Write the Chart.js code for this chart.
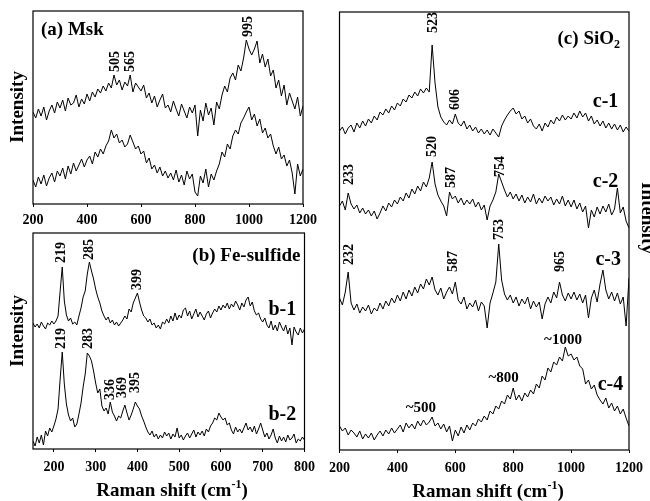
<!DOCTYPE html>
<html>
<head>
<meta charset="utf-8">
<script src="https://cdn.jsdelivr.net/npm/chart.js@4.4.0/dist/chart.umd.min.js"></script>
<style>
  body { margin: 0; background: #fff; width: 650px; height: 501px; position: relative; overflow: hidden; }
  canvas { position: absolute; }
</style>
</head>
<body>
<canvas id="chartA" style="left:0px;top:0px" width="322" height="230"></canvas>
<canvas id="chartB" style="left:0px;top:230px" width="322" height="271"></canvas>
<canvas id="chartC" style="left:322px;top:0px" width="328" height="501"></canvas>
<script>
// wavenumber grids (cm-1)
const steps = (a, b, s) => Array.from({ length: Math.round((b - a) / s) + 1 }, (_, i) => a + i * s);
const shiftA = steps(200, 1200, 10);
const shiftB = steps(150, 800, 5);
const shiftC = steps(200, 1200, 10);

// tick labels
const ticksA = [200, 400, 600, 800, 1000, 1200];
const ticksB = [200, 300, 400, 500, 600, 700, 800];
const ticksC = [200, 400, 600, 800, 1000, 1200];

// (a) Msk, two spectra (offset intensities)
const mskTop = [
  92, 86, 95, 88, 97, 84, 93, 99, 91, 102,
  96, 104, 93, 106, 99, 101, 109, 97, 105, 100,
  110, 103, 112, 107, 115, 111, 118, 113, 121, 116,
  129, 119, 124, 114, 122, 118, 129, 112, 121, 117,
  113, 119, 106, 111, 101, 108, 97, 104, 110, 96,
  99, 92, 103, 95, 88, 100, 93, 86, 97, 91,
  99, 68, 94, 83, 101, 89, 96, 79, 102, 95,
  109, 118, 112, 126, 131, 124, 139, 133, 146, 164,
  155, 149, 155, 163, 141, 150, 137, 145, 128, 134,
  116, 124, 108, 119, 99, 111, 103, 95, 107, 88,
  98
];
const mskBottom = [
  24, 17, 27, 20, 29, 18, 26, 31, 22, 33,
  28, 36, 25, 38, 30, 41, 33, 39, 45, 37,
  44, 48, 40, 52, 47, 55, 50, 58, 63, 74,
  66, 70, 61, 64, 57, 60, 69, 62, 55, 58,
  50, 53, 41, 46, 35, 39, 31, 37, 28, 33,
  26, 31, 24, 34, 22, 29, 19, 33, 25, 30,
  12, 8, 28, 21, 35, 17, 30, 24, 33, 40,
  52, 47, 60, 55, 68, 74, 70, 81, 86, 92,
  97, 84, 90, 78, 85, 71, 76, 66, 70, 58,
  50, 57, 45, 49, 38, 44, 31, 10, 40, 28,
  35
];

// (b) Fe-sulfide
const feS1 = [
  126, 122, 125, 121, 127, 123, 120, 126, 124, 128,
  125, 128, 133, 158, 182, 148, 134, 128, 131, 125,
  127, 124, 133, 141, 152, 158, 175, 187, 178, 170,
  160, 152, 146, 138, 133, 129, 132, 126, 129, 124,
  127, 123, 126, 129, 133, 130, 140, 137, 146, 151,
  156, 147, 139, 133, 131, 127, 130, 124, 126, 121,
  124, 120, 127, 125, 130, 126, 133, 128, 136, 129,
  134, 131, 139, 141, 133, 138, 130, 135, 140, 132,
  137, 133, 129, 135, 138, 131, 136, 140, 137, 143,
  139, 144, 141, 146, 140, 145, 142, 148, 144, 139,
  146, 142, 149, 152, 143, 147, 138, 134, 136, 130,
  127, 131, 124, 121, 128, 119, 124, 118, 127, 122,
  118, 124, 115, 121, 104, 122, 117, 114, 121, 116, 120
];
const feS2 = [
  8, 3, 12, 6, 14, 4, 18, 13, 21, 17,
  23, 30, 40, 70, 97, 65, 45, 34, 28, 31,
  22, 25, 35, 46, 62, 75, 96, 93, 88, 78,
  66, 56, 60, 43, 38, 41, 35, 47, 37, 33,
  28, 33, 31, 38, 44, 36, 29, 34, 40, 47,
  43, 40, 33, 28, 22, 17, 14, 18, 12, 15,
  10, 14, 11, 17, 13, 16, 10, 15, 12, 21,
  11, 14, 9, 13, 16, 11, 15, 19, 12, 17,
  14, 18, 13, 20, 17, 23, 26, 31, 29, 36,
  32, 29, 31, 24, 26, 19, 15, 22, 17, 20,
  16, 21, 26, 19, 22, 17, 23, 15, 20, 26,
  19, 12, 16, 10, 14, 20, 11, 6, 13, 8,
  12, 7, 14, 9, 11, 15, 6, 10, 8, 12, 9
];

// (c) SiO2
const sio1 = [
  319, 323, 316, 322, 325, 318, 327, 322, 329, 324,
  331, 327, 334, 330, 338, 335, 341, 337, 344, 340,
  347, 344, 351, 348, 355, 352, 358, 354, 361, 357,
  362, 358, 405, 367, 343, 333, 328, 325, 330, 326,
  336, 327, 324, 329, 321, 325, 319, 323, 317, 321,
  316, 320, 315, 321, 317, 313, 324, 330, 335, 339,
  342, 336, 339, 331, 334, 327, 331, 324, 321, 326,
  319, 327, 323, 330, 326, 333, 329, 335, 330, 334,
  331, 337, 332, 339, 333, 337, 329, 334, 326, 330,
  324, 329, 322, 327, 321, 326, 320, 325, 318, 323,
  319
];
const sio2 = [
  244, 249, 240, 257, 246, 241, 245, 237, 242, 236,
  240, 234, 239, 231, 237, 244, 239, 247, 243, 250,
  246, 253, 249, 257, 252, 261, 256, 264, 259, 268,
  263, 272, 288, 266, 255, 249, 244, 234, 258, 251,
  254, 247, 252, 245, 250, 246, 251, 243, 248, 240,
  245, 230, 244, 250, 258, 276, 268, 260, 253, 258,
  251, 256, 249, 255, 247, 253, 248, 256, 246, 252,
  247, 254, 249, 253, 245, 251, 246, 254, 244, 250,
  243, 250, 241, 247, 238, 244, 222, 240, 233, 243,
  236, 244, 238, 246, 235, 241, 262, 237, 243, 229,
  222
];
const sio3 = [
  152, 145, 158, 178, 147, 140, 146, 137, 143, 139,
  145, 136, 142, 139, 147, 141, 149, 144, 152, 147,
  155, 149, 158, 151, 160, 154, 163, 157, 166, 161,
  171, 165, 173, 160, 155, 162, 151, 158, 163, 156,
  168, 150, 146, 153, 141, 147, 143, 150, 139, 148,
  144, 122, 147, 157, 168, 206, 170, 156, 150, 155,
  147, 153, 144, 151, 146, 153, 141, 149, 143, 148,
  131, 146, 153, 147, 158, 152, 168, 155, 149, 157,
  151, 158, 150, 156, 147, 155, 132, 152, 160, 148,
  166, 180, 160, 151, 158, 149, 157, 146, 153, 124,
  172
];
const sio4 = [
  24, 19, 22, 15, 20, 17, 13, 19, 11, 16,
  12, 17, 10, 15, 19, 14, 20, 16, 22, 17,
  21, 25, 18, 27, 22, 26, 21, 29, 24, 30,
  25, 28, 33, 24, 27, 21, 26, 18, 24, 9,
  20, 14, 23, 17, 25, 20, 27, 24, 31, 28,
  34, 30, 39, 36, 44, 41, 49, 46, 55, 51,
  62, 50, 55, 49, 57, 53, 60, 56, 66, 62,
  74, 70, 82, 78, 88, 85, 93, 89, 103, 94,
  96, 90, 93, 84, 81, 66, 70, 61, 65, 55,
  50, 46, 52, 42, 47, 39, 44, 36, 41, 32,
  24
];

// peak annotations (wavenumber, label foot in intensity units)
const peaksA = [
  { text: '505', x: 505, y: 132 }, { text: '565', x: 562, y: 132 }, { text: '995', x: 997, y: 167 }
];
const peaksB = [
  { text: '219', x: 219, y: 186 }, { text: '285', x: 285, y: 189 }, { text: '399', x: 399, y: 159 },
  { text: '219', x: 219, y: 100 }, { text: '283', x: 283, y: 100 },
  { text: '336', x: 336, y: 49 }, { text: '369', x: 365, y: 51 }, { text: '395', x: 396, y: 56 }
];
const peaksC = [
  { text: '523', x: 525, y: 417 }, { text: '606', x: 601, y: 340 },
  { text: '233', x: 235, y: 265 }, { text: '520', x: 522, y: 293 }, { text: '587', x: 585, y: 262 }, { text: '754', x: 755, y: 273 },
  { text: '232', x: 233, y: 185 }, { text: '587', x: 592, y: 178 }, { text: '753', x: 752, y: 210 }, { text: '965', x: 962, y: 178 }
];
const tagsB = [{ text: 'b-1', x: 747, y: 139 }, { text: 'b-2', x: 747, y: 34 }];
const tagsC = [
  { text: 'c-1', x: 1119, y: 348, size: 20 }, { text: 'c-2', x: 1119, y: 268, size: 20 },
  { text: 'c-3', x: 1128, y: 190, size: 20 }, { text: 'c-4', x: 1136, y: 65, size: 20 },
  { text: '~1000', x: 972, y: 110, size: 15 }, { text: '~800', x: 767, y: 72, size: 15 },
  { text: '~500', x: 481, y: 42, size: 15 }
];

const SERIF = '"Liberation Serif", "Times New Roman", serif';
const bold = size => `bold ${size}px ${SERIF}`;

// text made of pieces: [text, size, baseline shift]
function richText(ctx, pieces, x, y, align) {
  let w = 0;
  pieces.forEach(p => { ctx.font = bold(p[1]); w += ctx.measureText(p[0]).width; });
  let cx = align === 'right' ? x - w : align === 'center' ? x - w / 2 : x;
  ctx.textAlign = 'left';
  ctx.textBaseline = 'alphabetic';
  pieces.forEach(p => {
    ctx.font = bold(p[1]);
    ctx.fillText(p[0], cx, y + p[2]);
    cx += ctx.measureText(p[0]).width;
  });
}

function rotated(ctx, text, x, y, angle, size, align) {
  ctx.save();
  ctx.translate(x, y);
  ctx.rotate(angle);
  ctx.font = bold(size);
  ctx.textAlign = align;
  ctx.textBaseline = 'middle';
  ctx.fillText(text, 0, 0);
  ctx.restore();
}

function decor(opts) {
  return {
    id: 'decor',
    afterDatasetsDraw(chart) {
      const { ctx, chartArea: a, scales: { x, y } } = chart;
      ctx.save();
      ctx.strokeStyle = '#000';
      ctx.lineWidth = 1.2;
      ctx.strokeRect(a.left, a.top, a.right - a.left, a.bottom - a.top);
      ctx.fillStyle = '#000';
      (opts.peaks || []).forEach(p => {
        rotated(ctx, p.text, x.getPixelForValue(p.x), y.getPixelForValue(p.y), -Math.PI / 2, 14, 'left');
      });
      (opts.tags || []).forEach(t => {
        ctx.font = bold(t.size || 20);
        ctx.textAlign = 'center';
        ctx.textBaseline = 'middle';
        ctx.fillText(t.text, x.getPixelForValue(t.x), y.getPixelForValue(t.y));
      });
      (opts.texts || []).forEach(f => f(ctx, a));
      ctx.restore();
    }
  };
}

function panel(id, cfg) {
  const xs = cfg.shift;
  new Chart(document.getElementById(id), {
    type: 'line',
    data: {
      datasets: cfg.series.map(s => ({
        data: s.map((v, i) => ({ x: xs[i], y: v })),
        borderColor: '#000',
        borderWidth: 1,
        pointRadius: 0,
        tension: 0,
        fill: false
      }))
    },
    options: {
      responsive: false,
      animation: false,
      events: [],
      layout: { autoPadding: false, padding: cfg.padding },
      plugins: { legend: { display: false }, tooltip: { enabled: false } },
      scales: {
        x: {
          type: 'linear',
          min: cfg.xmin,
          max: cfg.xmax,
          afterBuildTicks: s => { s.ticks = cfg.ticks.map(v => ({ value: v })); },
          afterFit: s => { s.height = cfg.axisHeight; },
          border: { display: false },
          grid: { drawOnChartArea: false, drawTicks: true, tickLength: 3, color: '#000', lineWidth: 1 },
          ticks: {
            color: '#000',
            padding: cfg.tickPad,
            maxRotation: 0,
            autoSkip: false,
            font: { family: SERIF, weight: 'bold', size: 14 },
            callback: v => String(v)
          }
        },
        y: { display: false, min: 0, max: cfg.ymax }
      }
    },
    plugins: [decor(cfg.decor)]
  });
}

const intensityLeft = cy => ctx => rotated(ctx, 'Intensity', 18, cy, -Math.PI / 2, 19, 'center');
const ramanTitle = cx => (ctx, a) => richText(ctx, [['Raman shift (cm', 19, 0], ['-1', 12, -8], [')', 19, 0]], cx, a.bottom + 47, 'center');

panel('chartA', {
  shift: shiftA, series: [mskTop, mskBottom], xmin: 200, xmax: 1200, ymax: 193,
  ticks: ticksA, padding: { left: 33, right: 14, top: 11, bottom: 0 }, axisHeight: 26, tickPad: 5,
  decor: {
    peaks: peaksA,
    texts: [
      intensityLeft(107),
      (ctx, a) => richText(ctx, [['(a) Msk', 19, 0]], a.left + 8, a.top + 24, 'left')
    ]
  }
});

panel('chartB', {
  shift: shiftB, series: [feS1, feS2], xmin: 150, xmax: 800, ymax: 216,
  ticks: ticksB, padding: { left: 33, right: 14, top: 3, bottom: 0 }, axisHeight: 52, tickPad: 7,
  decor: {
    peaks: peaksB, tags: tagsB,
    texts: [
      intensityLeft(101),
      (ctx, a) => richText(ctx, [['(b) Fe-sulfide', 19, 0]], a.right - 4, a.top + 28, 'right'),
      ramanTitle(172)
    ]
  }
});

panel('chartC', {
  shift: shiftC, series: [sio1, sio2, sio3, sio4], xmin: 200, xmax: 1200, ymax: 438,
  ticks: ticksC, padding: { left: 16, right: 14, top: 12, bottom: 0 }, axisHeight: 51, tickPad: 7,
  decor: {
    peaks: peaksC, tags: tagsC,
    texts: [
      (ctx, a) => richText(ctx, [['(c) SiO', 19, 0], ['2', 12, 4]], a.right - 9, a.top + 32, 'right'),
      ramanTitle(166),
      ctx => rotated(ctx, 'Intensity', 325, 218, Math.PI / 2, 19, 'center')
    ]
  }
});
</script>
</body>
</html>
